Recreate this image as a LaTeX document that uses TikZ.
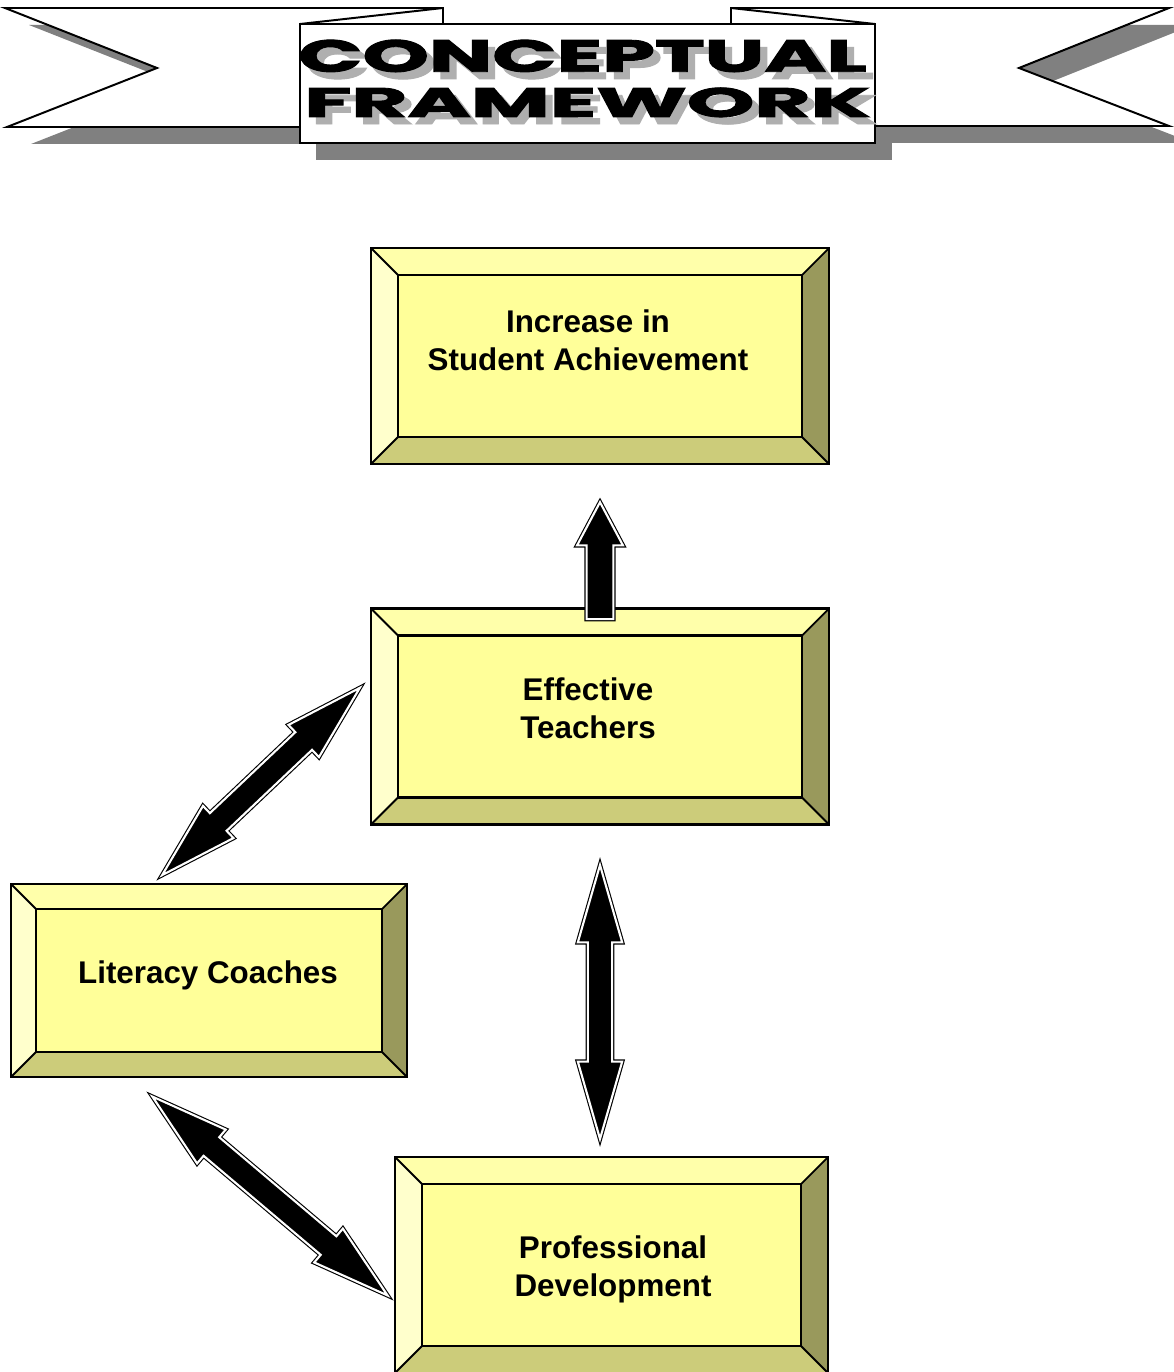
\documentclass[tikz,border=0pt]{standalone}
\usepackage{fontspec}
\setmainfont{Liberation Sans}
\newfontfamily\bannerfont{Poppins}[BoldFeatures={FakeBold=2}]
\usepackage{graphicx}
\usetikzlibrary{calc,shapes.arrows}
\definecolor{boxface}{RGB}{255,255,153}
\definecolor{bvtop}{RGB}{255,255,170}
\definecolor{bvleft}{RGB}{255,255,204}
\definecolor{bvright}{RGB}{153,153,92}
\definecolor{bvbot}{RGB}{204,204,122}
\definecolor{shadowgray}{RGB}{128,128,128}
\definecolor{txtshade}{RGB}{175,175,175}
\newcommand{\bannerline}[3]{%
  \makebox[0pt][l]{\hspace{0.18cm}\raisebox{-0.18cm}{\textcolor{txtshade}{\resizebox{#1}{#2}{#3}}}}%
  \resizebox{#1}{#2}{#3}}
\tikzset{
  bevbox/.style={draw,line width=2pt,fill=boxface,inner sep=0pt,outer sep=0pt,
    path picture={
      \coordinate (nw) at (path picture bounding box.north west);
      \coordinate (ne) at (path picture bounding box.north east);
      \coordinate (sw) at (path picture bounding box.south west);
      \coordinate (se) at (path picture bounding box.south east);
      \fill[bvtop] (nw) -- (ne) -- ($(ne)+(-#1,#1)$) -- ($(nw)+(#1,#1)$) -- cycle;
      \fill[bvleft] (nw) -- ($(nw)+(#1,#1)$) -- ($(sw)+(#1,-#1)$) -- (sw) -- cycle;
      \fill[bvright] (ne) -- (se) -- ($(se)+(-#1,-#1)$) -- ($(ne)+(-#1,#1)$) -- cycle;
      \fill[bvbot] (sw) -- (se) -- ($(se)+(-#1,-#1)$) -- ($(sw)+(#1,-#1)$) -- cycle;
      \draw[line width=1.6pt] ($(nw)+(#1,#1)$) rectangle ($(se)+(-#1,-#1)$);
      \draw[line width=1.3pt] (nw) -- ++(#1,#1) (ne) -- ++(-#1,#1)
        (sw) -- ++(#1,-#1) (se) -- ++(-#1,-#1);
    }},
  bevbox/.default=27,
  boxtxt/.style={font=\fontsize{22.3}{27}\selectfont\bfseries,align=center,inner sep=0pt},
  blockarr/.style={draw=black,line width=0.8pt,double=white,double distance=1.5pt,
    fill=black,inner xsep=0pt,line join=miter},
  dblarr/.style={blockarr,double arrow,double arrow tip angle=32,inner ysep=0.29cm,
    double arrow head extend=0.25cm},
  uparr/.style={blockarr,single arrow,single arrow tip angle=56,inner ysep=0.32cm,
    single arrow head extend=0.24cm,allow upside down},
  ribbon/.style={draw,line width=1.4pt,fill=white,line join=miter},
  ttl/.style={inner sep=0pt,font=\bannerfont\bfseries},
}
\begin{document}
\begin{tikzpicture}[x=0.025cm,y=-0.025cm]
\useasboundingbox (0,0) rectangle (1174,1372);

% banner
\fill[shadowgray] (29,25) -- (467,25) -- (467,144) -- (31,144) -- (181,85) -- cycle;
\fill[shadowgray] (755,25) -- (1193,25) -- (1043,85) -- (1193,143) -- (755,143) -- cycle;
\fill[shadowgray] (316,41) rectangle (892,160);
\draw[ribbon] (5,8) -- (443,8) -- (443,127) -- (7,127) -- (157,68) -- cycle;
\draw[ribbon] (731,8) -- (1169,8) -- (1019,68) -- (1169,126) -- (731,126) -- cycle;
\draw[ribbon] (300,24) rectangle (875,143);
\draw[line width=1.4pt] (300,24) -- (443,8) (875,24) -- (731,8);
\node[ttl,anchor=west] (ttl1) at (298,59.5) {\bannerline{14.2cm}{0.8cm}{CONCEPTUAL}};
\node[ttl,anchor=west] (ttl2) at (304,106) {\bannerline{14.15cm}{0.73cm}{FRAMEWORK}};

% boxes
\node[bevbox,minimum width=11.45cm,minimum height=5.4cm] (ach) at (600,356) {};
\node[bevbox,minimum width=11.45cm,minimum height=5.4cm] (teach) at (600,716.5) {};
\node[bevbox=25,minimum width=9.9cm,minimum height=4.825cm] (lit) at (209,980.5) {};
\node[bevbox,minimum width=10.825cm,minimum height=5.4cm] (prof) at (611.5,1265) {};
\node[boxtxt] (ach-lbl) at (588,340) {Increase in\\Student Achievement};
\node[boxtxt] (teach-lbl) at (588,708) {Effective\\Teachers};
\node[boxtxt] (lit-lbl) at (208,975) {Literacy Coaches};
\node[boxtxt] (prof-lbl) at (613,1269) {Professional\\Development};

% arrow ends
\coordinate (lt-a) at ([shift={(-52,-4)}]lit.north);
\coordinate (lt-b) at ([shift={(-6,-33.5)}]teach.west);
\coordinate (lp-a) at ([shift={(-62,15)}]lit.south);
\coordinate (lp-b) at ([shift={(-2,35)}]prof.west);
\coordinate (tp-a) at ([shift={(0,33.5)}]teach.south);
\coordinate (tp-b) at ([shift={(-11.5,-11)}]prof.north);
\coordinate (ta-a) at ([shift={(0,9.5)}]teach.north);
\coordinate (ta-b) at ([shift={(0,37)}]ach.south);

% arrows
\path let \p1=($(lt-b)-(lt-a)$), \n1={veclen(\x1,\y1)} in
  (lt-a) -- node[dblarr,sloped,minimum height=\n1-10pt] (arr-lt) {} (lt-b);
\path let \p1=($(lp-b)-(lp-a)$), \n1={veclen(\x1,\y1)} in
  (lp-a) -- node[dblarr,sloped,minimum height=\n1-10pt] (arr-lp) {} (lp-b);
\path let \p1=($(tp-b)-(tp-a)$), \n1={veclen(\x1,\y1)} in
  (tp-a) -- node[dblarr,sloped,minimum height=\n1-10pt] (arr-tp) {} (tp-b);
\path let \p1=($(ta-b)-(ta-a)$), \n1={veclen(\x1,\y1)} in
  (ta-a) -- node[uparr,sloped,pos=1,anchor=tip,minimum height=\n1] (arr-ta) {} (ta-b);
\end{tikzpicture}
\end{document}
